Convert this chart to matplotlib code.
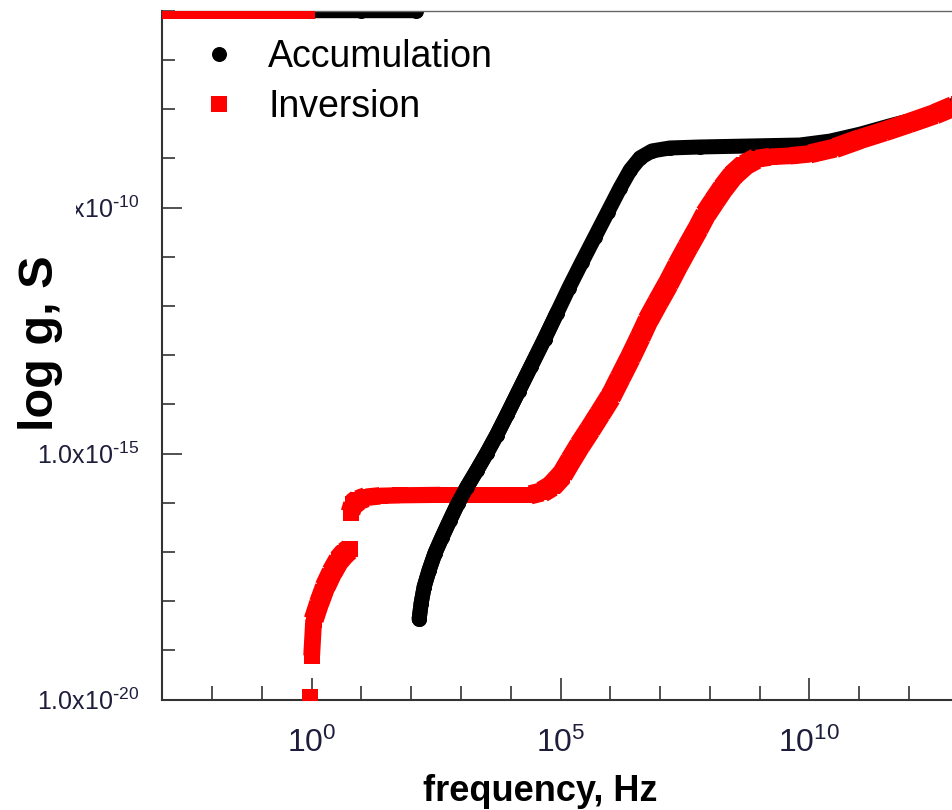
import numpy as np
import matplotlib
matplotlib.use("Agg")
import matplotlib.pyplot as plt
from matplotlib.collections import LineCollection
from matplotlib.lines import Line2D
from matplotlib.ticker import FixedLocator, FuncFormatter, NullFormatter
from matplotlib.transforms import Bbox, TransformedBbox

plt.rcParams["font.family"] = ["Liberation Sans", "DejaVu Sans"]
plt.rcParams["mathtext.default"] = "regular"

nan = np.nan

# log10(frequency, Hz) and log10(g, S); NaN splits the runs of points
acc_log_f = [-3.0, -2.0, -1.0, 0.0, 1.0, 2.09, nan,
             2.16, 2.20, 2.26, 2.36, 2.48, 2.62, 2.78, 2.94, 3.12, 3.32,
             3.52, 3.72, 3.93, 4.16, 4.41, 4.68, 4.93, 5.17, 5.43, 5.69,
             5.95, 6.20, 6.40, 6.60, 6.84, 7.20, 7.80, 8.81, 9.81, 10.42,
             11.02, 11.62, 12.22, 13.0]
acc_log_g = [-6.0, -6.0, -6.0, -6.0, -6.0, -6.0, nan,
             -18.36, -18.04, -17.71, -17.37, -17.02, -16.70, -16.35, -16.01, -15.68, -15.34,
             -14.99, -14.62, -14.20, -13.73, -13.22, -12.67, -12.14, -11.63, -11.11, -10.60,
             -10.09, -9.60, -9.24, -8.99, -8.85, -8.79, -8.77, -8.75, -8.73, -8.65,
             -8.51, -8.34, -8.18, -7.88]

inv_log_f = [-3.0, -2.0, -1.0, -0.1, nan,
             -0.03, nan,
             0.00, 0.04, 0.15, 0.27, 0.41, 0.55, 0.67, 0.76, nan,
             0.78, 0.83, 0.93, 1.09, 1.37, 1.78, 2.58, 3.38, 3.99, 4.39,
             4.63, 4.83, 5.03, 5.21, 5.39, 5.59, 5.79, 6.00, 6.20, 6.40,
             6.60, 6.76, 6.96, 7.16, 7.36, 7.56, 7.76, 7.92, 8.09, 8.27,
             8.47, 8.69, 8.93, 9.21, 9.61, 10.01, 10.52, 11.02, 11.52, 12.02,
             12.53, 13.0]
inv_log_g = [-6.0, -6.0, -6.0, -6.0, nan,
             -19.95, nan,
             -19.11, -18.38, -18.04, -17.71, -17.41, -17.16, -17.02, -16.95, nan,
             -16.20, -16.03, -15.95, -15.89, -15.86, -15.85, -15.84, -15.84, -15.84, -15.84,
             -15.78, -15.66, -15.44, -15.13, -14.83, -14.52, -14.20, -13.86, -13.46, -13.06,
             -12.64, -12.29, -11.92, -11.56, -11.17, -10.80, -10.44, -10.13, -9.87, -9.60,
             -9.34, -9.14, -9.01, -8.97, -8.95, -8.91, -8.79, -8.61, -8.45, -8.28,
             -8.10, -7.90]

series_labels = ["Accumulation", "Inversion"]
x_major_exp = [0, 5, 10]
y_major_exp = [-20, -15, -10]

acc_f = 10.0 ** np.array(acc_log_f)
acc_g = 10.0 ** np.array(acc_log_g)
inv_f = 10.0 ** np.array(inv_log_f)
inv_g = 10.0 ** np.array(inv_log_g)

W, H = 953, 810
fig = plt.figure(figsize=(W / 100, H / 100), dpi=100)
ax = fig.add_axes([162.4 / W, 110.5 / H, 796.2 / W, 688.8 / H])
ax.set_xscale("log")
ax.set_yscale("log")
ax.set_xlim(1e-3, 1e13)
ax.set_ylim(1e-20, 1e-6)


def square_band(ax, f, g, side, color, zorder):
    """Dense run of square markers: a stroke swept by an axis-aligned square."""
    pts = np.column_stack([f, g])
    disp = ax.transData.transform(pts)
    segs, widths = [], []
    for i in range(len(f) - 1):
        if np.isnan(g[i]) or np.isnan(g[i + 1]):
            continue
        d = disp[i + 1] - disp[i]
        length = np.hypot(d[0], d[1])
        c, s = abs(d[0]) / length, abs(d[1]) / length
        segs.append(pts[i:i + 2])
        widths.append(side * (c + s))
    ax.add_collection(LineCollection(segs, linewidths=widths, colors=color,
                                     capstyle="butt", joinstyle="round",
                                     zorder=zorder), autolim=False)
    ax.plot(f, g, ls="none", marker="s", ms=side, mew=0, color=color,
            zorder=zorder)


black_w = 10.8
red_w = 11.5

# accumulation points drawn as a dense band of circles
ax.plot(acc_f, acc_g, color="black", lw=black_w, solid_capstyle="round",
        solid_joinstyle="round", marker="o", ms=black_w, mew=0, zorder=2)
# inversion points drawn as a dense band of squares
square_band(ax, inv_f, inv_g, red_w, "red", 3)
# the accumulation rise passes over the inversion plateau
lf = np.array(acc_log_f)
cross = (lf > 2.1) & (lf < 5.0)
ax.plot(acc_f, np.where(cross, acc_g, nan), color="black", lw=black_w,
        solid_capstyle="round", solid_joinstyle="round", marker="o",
        ms=black_w, mew=0, zorder=4)


def exponent(v):
    e = int(round(np.log10(v)))
    return ("\\text{-}%d" % -e) if e < 0 else "%d" % e


# ticks
tick_color = "#1e1e3c"
ax.xaxis.set_major_locator(FixedLocator([10.0 ** e for e in x_major_exp]))
ax.xaxis.set_minor_locator(FixedLocator([10.0 ** e for e in range(-3, 14)]))
ax.xaxis.set_minor_formatter(NullFormatter())
ax.xaxis.set_major_formatter(FuncFormatter(
    lambda v, p: "10$^{%s}$" % exponent(v)))
ax.yaxis.set_major_locator(FixedLocator([10.0 ** e for e in y_major_exp]))
ax.yaxis.set_minor_locator(FixedLocator([10.0 ** e for e in range(-20, -5)]))
ax.yaxis.set_minor_formatter(NullFormatter())
ax.yaxis.set_major_formatter(FuncFormatter(
    lambda v, p: "1.0x10$^{%s}$" % exponent(v)))

ax.tick_params(axis="x", which="major", direction="in", length=15.8, width=1.1,
               color="#222222", labelsize=23, labelcolor=tick_color, pad=20)
ax.tick_params(axis="x", which="minor", direction="in", length=10, width=1.1,
               color="#222222")
ax.tick_params(axis="y", which="major", direction="in", length=14.4, width=1.1,
               color="#222222", labelsize=18, labelcolor=tick_color, pad=16.5)
ax.tick_params(axis="y", which="minor", direction="in", length=9, width=1.1,
               color="#222222")
ax.tick_params(top=False, right=False, which="both")

for side in ("left", "bottom"):
    ax.spines[side].set_color("#333333")
    ax.spines[side].set_linewidth(1.5)
ax.spines["top"].set_color("#666666")
ax.spines["top"].set_linewidth(1.0)
ax.spines["right"].set_visible(False)

ax.set_xlabel("frequency, Hz", fontsize=26, fontweight="bold")
ax.xaxis.set_label_coords(0.474, -0.108)
ax.set_ylabel("log g, S", fontsize=35, fontweight="bold")
ax.yaxis.set_label_coords(-0.125, 0.518)

handles = [
    Line2D([], [], ls="none", marker="o", ms=black_w, mew=0, color="black"),
    Line2D([], [], ls="none", marker="s", ms=red_w, mew=0, color="red"),
]
ax.legend(handles, series_labels, loc="upper left",
          bbox_to_anchor=(200 / W, 1 - 39 / H), bbox_transform=fig.transFigure,
          frameon=False, borderpad=0, borderaxespad=0, handlelength=1.0,
          handletextpad=0.82, labelspacing=0.37, fontsize=27)

# the topmost y label is cut off on its left side
top_label = ax.yaxis.get_major_ticks()[2].label1
top_label.set_clip_box(TransformedBbox(Bbox([[76 / W, 0], [1, 1]]), fig.transFigure))
top_label.set_clip_on(True)

fig.savefig("out.png", dpi=100)
